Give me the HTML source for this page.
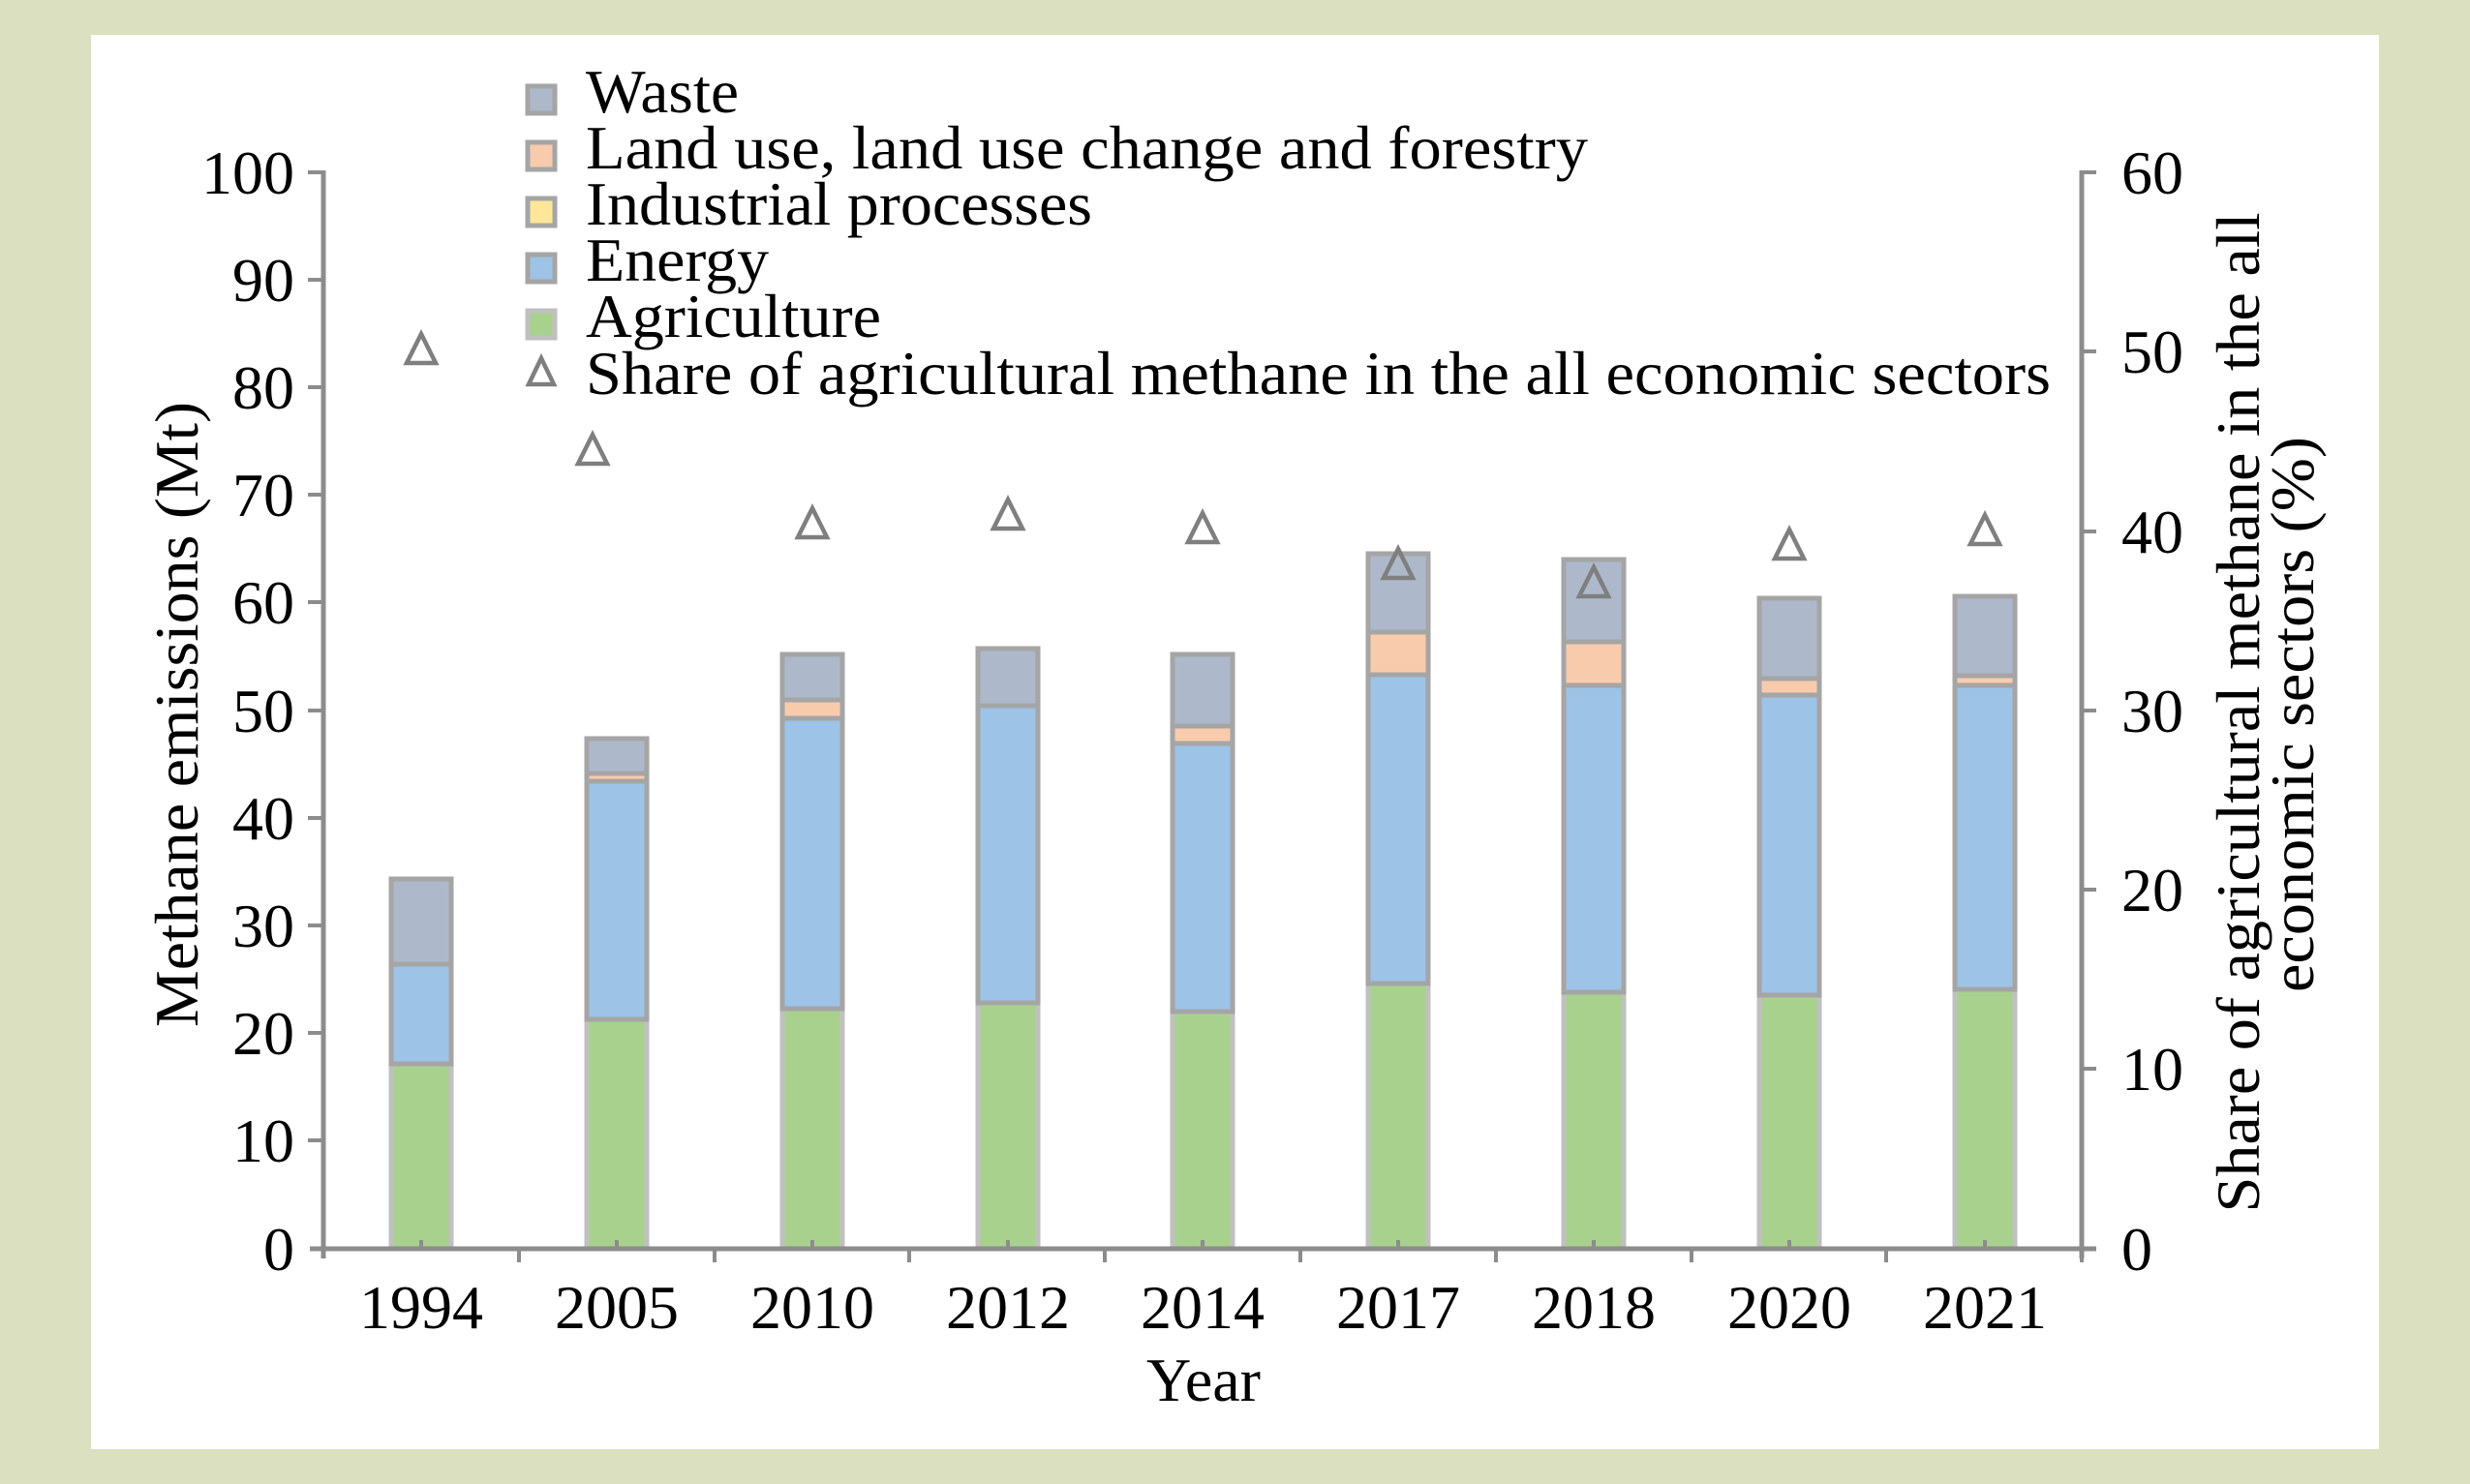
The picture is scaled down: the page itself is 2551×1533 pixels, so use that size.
<!DOCTYPE html>
<html><head><meta charset="utf-8"><style>html,body{margin:0;padding:0;background:#dae0c0}svg{display:block}</style></head>
<body>
<svg width="2551" height="1533" viewBox="0 0 2551 1533" xmlns="http://www.w3.org/2000/svg" font-family="'Liberation Serif', serif">
<rect x="0" y="0" width="2551" height="1533" fill="#dae0c0"/>
<rect x="94" y="36" width="2363" height="1461" fill="#ffffff"/>
<g stroke-width="5" stroke="#a5a5a5">
<rect x="404" y="1099" width="62" height="191" fill="#a9d18e" stroke="#c0c0c0"/>
<rect x="404" y="996" width="62" height="103" fill="#9dc3e6"/>
<rect x="404" y="908" width="62" height="88" fill="#adb9ca"/>
<rect x="606" y="1053" width="62" height="237" fill="#a9d18e" stroke="#c0c0c0"/>
<rect x="606" y="807" width="62" height="246" fill="#9dc3e6"/>
<rect x="606" y="799" width="62" height="8" fill="#f8cbad"/>
<rect x="606" y="763" width="62" height="36" fill="#adb9ca"/>
<rect x="808" y="1042" width="62" height="248" fill="#a9d18e" stroke="#c0c0c0"/>
<rect x="808" y="742" width="62" height="300" fill="#9dc3e6"/>
<rect x="808" y="723" width="62" height="19" fill="#f8cbad"/>
<rect x="808" y="676" width="62" height="47" fill="#adb9ca"/>
<rect x="1010" y="1036" width="62" height="254" fill="#a9d18e" stroke="#c0c0c0"/>
<rect x="1010" y="729" width="62" height="307" fill="#9dc3e6"/>
<rect x="1010" y="670" width="62" height="59" fill="#adb9ca"/>
<rect x="1211" y="1045" width="62" height="245" fill="#a9d18e" stroke="#c0c0c0"/>
<rect x="1211" y="768" width="62" height="277" fill="#9dc3e6"/>
<rect x="1211" y="750" width="62" height="18" fill="#f8cbad"/>
<rect x="1211" y="676" width="62" height="74" fill="#adb9ca"/>
<rect x="1413" y="1016" width="62" height="274" fill="#a9d18e" stroke="#c0c0c0"/>
<rect x="1413" y="697" width="62" height="319" fill="#9dc3e6"/>
<rect x="1413" y="653" width="62" height="44" fill="#f8cbad"/>
<rect x="1413" y="572" width="62" height="81" fill="#adb9ca"/>
<rect x="1615" y="1025" width="62" height="265" fill="#a9d18e" stroke="#c0c0c0"/>
<rect x="1615" y="708" width="62" height="317" fill="#9dc3e6"/>
<rect x="1615" y="663" width="62" height="45" fill="#f8cbad"/>
<rect x="1615" y="578" width="62" height="85" fill="#adb9ca"/>
<rect x="1817" y="1028" width="62" height="262" fill="#a9d18e" stroke="#c0c0c0"/>
<rect x="1817" y="718" width="62" height="310" fill="#9dc3e6"/>
<rect x="1817" y="701" width="62" height="17" fill="#f8cbad"/>
<rect x="1817" y="618" width="62" height="83" fill="#adb9ca"/>
<rect x="2019" y="1022" width="62" height="268" fill="#a9d18e" stroke="#c0c0c0"/>
<rect x="2019" y="708" width="62" height="314" fill="#9dc3e6"/>
<rect x="2019" y="698" width="62" height="10" fill="#f8cbad"/>
<rect x="2019" y="616" width="62" height="82" fill="#adb9ca"/>
</g>
<g fill="none" stroke="#7f7f7f" stroke-width="4.5">
<polygon points="435,345 420,375 450,375"/>
<polygon points="612,449 597,479 627,479"/>
<polygon points="839,525 824,555 854,555"/>
<polygon points="1041,516 1026,546 1056,546"/>
<polygon points="1242,530 1227,560 1257,560"/>
<polygon points="1444,567 1429,597 1459,597"/>
<polygon points="1646,586 1631,616 1661,616"/>
<polygon points="1848,547 1833,577 1863,577"/>
<polygon points="2050,532 2035,562 2065,562"/>
</g>
<g stroke="#8c8c8c" stroke-width="5" fill="none">
<line x1="334" y1="176" x2="334" y2="1300"/>
<line x1="2150" y1="176" x2="2150" y2="1300"/>
<line x1="320" y1="1290" x2="2165" y2="1290"/>
</g>
<g stroke="#8c8c8c" stroke-width="4">
<line x1="318" y1="178" x2="334" y2="178"/><line x1="318" y1="289" x2="334" y2="289"/><line x1="318" y1="400" x2="334" y2="400"/><line x1="318" y1="511" x2="334" y2="511"/><line x1="318" y1="622" x2="334" y2="622"/><line x1="318" y1="734" x2="334" y2="734"/><line x1="318" y1="845" x2="334" y2="845"/><line x1="318" y1="956" x2="334" y2="956"/><line x1="318" y1="1067" x2="334" y2="1067"/><line x1="318" y1="1178" x2="334" y2="1178"/>
<line x1="2150" y1="178" x2="2165" y2="178"/><line x1="2150" y1="363" x2="2165" y2="363"/><line x1="2150" y1="549" x2="2165" y2="549"/><line x1="2150" y1="734" x2="2165" y2="734"/><line x1="2150" y1="919" x2="2165" y2="919"/><line x1="2150" y1="1104" x2="2165" y2="1104"/>
<line x1="536" y1="1290" x2="536" y2="1304"/><line x1="738" y1="1290" x2="738" y2="1304"/><line x1="939" y1="1290" x2="939" y2="1304"/><line x1="1141" y1="1290" x2="1141" y2="1304"/><line x1="1343" y1="1290" x2="1343" y2="1304"/><line x1="1545" y1="1290" x2="1545" y2="1304"/><line x1="1747" y1="1290" x2="1747" y2="1304"/><line x1="1948" y1="1290" x2="1948" y2="1304"/><line x1="2150" y1="1290" x2="2150" y2="1304"/>
<line x1="435" y1="1290" x2="435" y2="1281"/><line x1="637" y1="1290" x2="637" y2="1281"/><line x1="839" y1="1290" x2="839" y2="1281"/><line x1="1041" y1="1290" x2="1041" y2="1281"/><line x1="1242" y1="1290" x2="1242" y2="1281"/><line x1="1444" y1="1290" x2="1444" y2="1281"/><line x1="1646" y1="1290" x2="1646" y2="1281"/><line x1="1848" y1="1290" x2="1848" y2="1281"/><line x1="2050" y1="1290" x2="2050" y2="1281"/>
</g>
<g font-size="64" fill="#000" text-anchor="end">
<text x="304" y="200">100</text><text x="304" y="311">90</text><text x="304" y="422">80</text><text x="304" y="533">70</text><text x="304" y="644">60</text><text x="304" y="756">50</text><text x="304" y="867">40</text><text x="304" y="978">30</text><text x="304" y="1089">20</text><text x="304" y="1200">10</text><text x="304" y="1312">0</text>
</g>
<g font-size="64" fill="#000" text-anchor="start">
<text x="2191" y="200">60</text><text x="2191" y="385">50</text><text x="2191" y="571">40</text><text x="2191" y="756">30</text><text x="2191" y="941">20</text><text x="2191" y="1126">10</text><text x="2191" y="1312">0</text>
</g>
<g font-size="64" fill="#000" text-anchor="middle">
<text x="435" y="1372">1994</text><text x="637" y="1372">2005</text><text x="839" y="1372">2010</text><text x="1041" y="1372">2012</text><text x="1242" y="1372">2014</text><text x="1444" y="1372">2017</text><text x="1646" y="1372">2018</text><text x="1848" y="1372">2020</text><text x="2050" y="1372">2021</text>
<text x="1243" y="1447">Year</text>
<text transform="translate(204,738) rotate(-90)" textLength="646" lengthAdjust="spacingAndGlyphs">Methane emissions (Mt)</text>
<text transform="translate(2333,736) rotate(-90)" textLength="1033" lengthAdjust="spacingAndGlyphs">Share of agricultural methane in the all</text>
<text transform="translate(2389,738) rotate(-90)" textLength="574" lengthAdjust="spacingAndGlyphs">economic sectors (%)</text>
</g>
<g stroke-width="5">
<rect x="545" y="89" width="28" height="28" fill="#adb9ca" stroke="#a5a5a5"/>
<rect x="545" y="147" width="28" height="28" fill="#f8cbad" stroke="#a5a5a5"/>
<rect x="545" y="205" width="28" height="28" fill="#ffe699" stroke="#a5a5a5"/>
<rect x="545" y="263" width="28" height="28" fill="#9dc3e6" stroke="#a5a5a5"/>
<rect x="545" y="321" width="28" height="28" fill="#a9d18e" stroke="#c0c0c0"/>
<polygon points="559,370 546,397 572,397" fill="none" stroke="#7f7f7f" stroke-width="4.5"/>
</g>
<g font-size="64" fill="#000">
<text x="605" y="116" textLength="158" lengthAdjust="spacingAndGlyphs">Waste</text>
<text x="605" y="174" textLength="1035" lengthAdjust="spacingAndGlyphs">Land use, land use change and forestry</text>
<text x="605" y="232" textLength="523" lengthAdjust="spacingAndGlyphs">Industrial processes</text>
<text x="605" y="290" textLength="189" lengthAdjust="spacingAndGlyphs">Energy</text>
<text x="605" y="348" textLength="305" lengthAdjust="spacingAndGlyphs">Agriculture</text>
<text x="605" y="407" textLength="1513" lengthAdjust="spacingAndGlyphs">Share of agricultural methane in the all economic sectors</text>
</g>
</svg>
</body></html>
